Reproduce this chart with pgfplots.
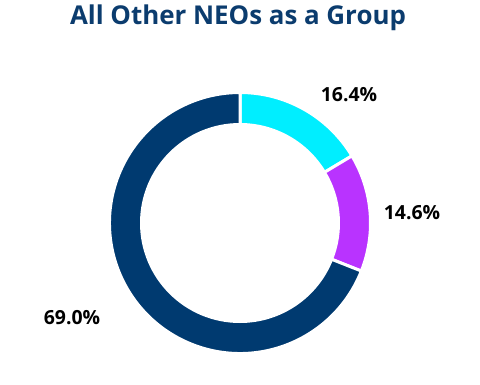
\documentclass[border=0pt]{standalone}
\usepackage{pgfplots}
\pgfplotsset{compat=1.18}
\usepackage{pgfplotstable}
\usepackage{fontspec}
\setmainfont{Open Sans}
\definecolor{cA}{HTML}{00EEFF}
\definecolor{cB}{HTML}{B933FF}
\definecolor{cC}{HTML}{003A70}
\definecolor{titleblue}{HTML}{0B3C6E}
\pgfplotstableread{
label value
16.4 16.4
14.6 14.6
69.0 69.0
}\shares
\pgfplotstablegetelem{0}{value}\of\shares \let\va\pgfplotsretval
\pgfplotstablegetelem{1}{value}\of\shares \let\vb\pgfplotsretval
\pgfplotstablegetelem{2}{value}\of\shares \let\vc\pgfplotsretval
\pgfmathsetmacro{\aA}{90}
\pgfmathsetmacro{\aB}{90-3.6*\va}
\pgfmathsetmacro{\aC}{\aB-3.6*\vb}
\pgfmathsetmacro{\aD}{\aC-3.6*\vc}
\def\Ro{130.5bp}
\def\Ri{98.5bp}
\begin{document}
\begin{tikzpicture}
\begin{axis}[
  scale only axis, width=480bp, height=384bp,
  xmin=0, xmax=480, ymin=0, ymax=384,
  hide axis, clip=false,
]
\path (axis cs:0,0) rectangle (axis cs:480,384);
\fill[cA, draw=white, line width=3bp, shift={(axis cs:240,161)}]
  (\aA:\Ro) arc[start angle=\aA, end angle=\aB, radius=\Ro] -- (\aB:\Ri)
  arc[start angle=\aB, end angle=\aA, radius=\Ri] -- cycle;
\fill[cB, draw=white, line width=3bp, shift={(axis cs:240,161)}]
  (\aB:\Ro) arc[start angle=\aB, end angle=\aC, radius=\Ro] -- (\aC:\Ri)
  arc[start angle=\aC, end angle=\aB, radius=\Ri] -- cycle;
\fill[cC, draw=white, line width=3bp, shift={(axis cs:240,161)}]
  (\aC:\Ro) arc[start angle=\aC, end angle=\aD, radius=\Ro] -- (\aD:\Ri)
  arc[start angle=\aD, end angle=\aC, radius=\Ri] -- cycle;
\node[font=\bfseries\fontsize{19.5}{22}\selectfont] at (axis cs:349,289) {16.4\%};
\node[font=\bfseries\fontsize{19.5}{22}\selectfont] at (axis cs:412,171) {14.6\%};
\node[font=\bfseries\fontsize{19.5}{22}\selectfont] at (axis cs:72,66) {69.0\%};
\node[font=\bfseries\fontsize{26}{30}\selectfont, text=titleblue] at (axis cs:238,366) {All Other NEOs as a Group};
\end{axis}
\end{tikzpicture}
\end{document}
